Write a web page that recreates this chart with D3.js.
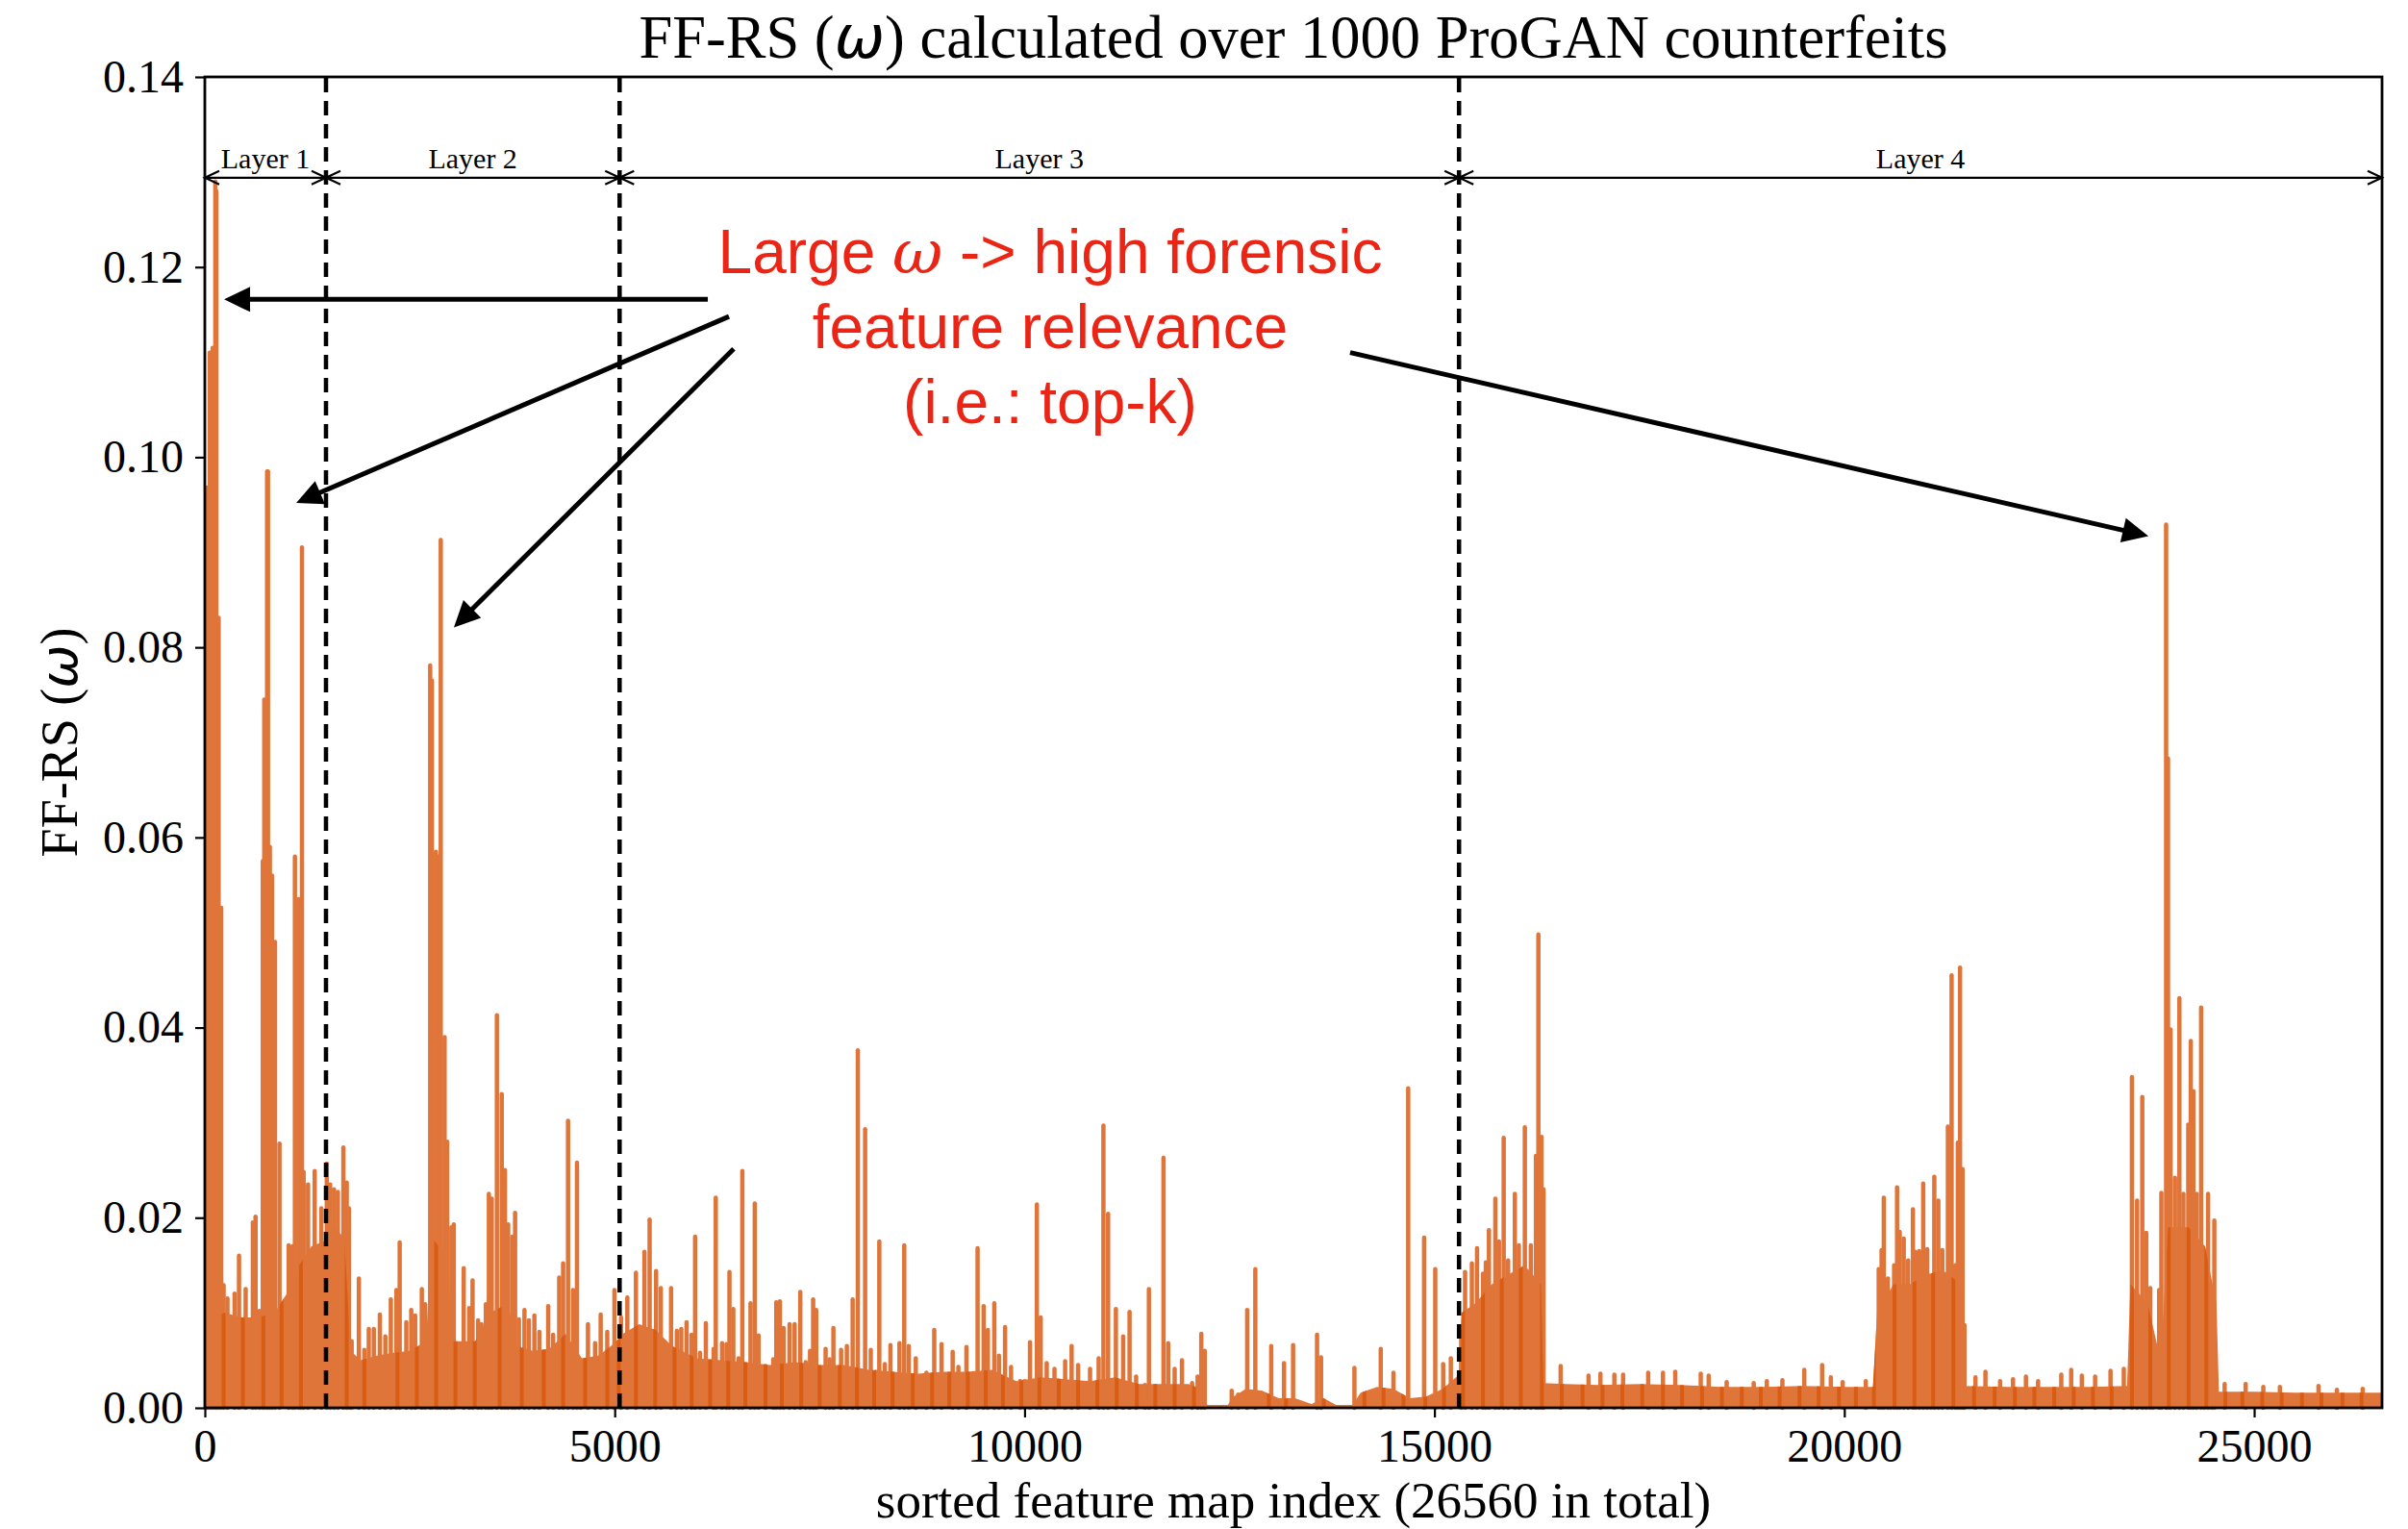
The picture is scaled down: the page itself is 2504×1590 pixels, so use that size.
<!DOCTYPE html>
<html>
<head>
<meta charset="utf-8">
<script src="https://cdn.jsdelivr.net/npm/d3@7"></script>
<style>
  body { margin: 0; background: #fff; }
  text { white-space: pre; }
</style>
</head>
<body>
<svg id="chart" width="2504" height="1590"></svg>
<script>
// values
const xMax = 26560;
const xTicks = [0, 5000, 10000, 15000, 20000, 25000];
const yTicks = [0, 0.02, 0.04, 0.06, 0.08, 0.10, 0.12, 0.14];

const layerBounds = [0, 1478, 5060, 15300, 26560];
const layerNames = ["Layer 1", "Layer 2", "Layer 3", "Layer 4"];
const layerArrowY = 0.1294;

// level of the dense orange band between peaks  [index, FF-RS]
const mass = [
  [0, 0.0095], [250, 0.0100], [450, 0.0095], [650, 0.0095], [850, 0.0100], [1000, 0.0120],
  [1150, 0.0150], [1300, 0.0170], [1450, 0.0175], [1550, 0.0190], [1700, 0.0180], [1780, 0.0060],
  [1900, 0.0050], [2100, 0.0055], [2300, 0.0058], [2500, 0.0060], [2700, 0.0070], [2760, 0.0180],
  [2950, 0.0160], [3030, 0.0070], [3300, 0.0070], [3480, 0.0100], [3700, 0.0110], [3800, 0.0065],
  [4000, 0.0060], [4200, 0.0062], [4400, 0.0078], [4600, 0.0052], [4800, 0.0055], [5000, 0.0068],
  [5100, 0.0078], [5300, 0.0088], [5500, 0.0082], [5700, 0.0065], [6000, 0.0052], [6300, 0.0050],
  [6600, 0.0048], [6900, 0.0045], [7200, 0.0048], [7500, 0.0045], [7800, 0.0045], [8100, 0.0040],
  [8400, 0.0038], [8700, 0.0036], [9000, 0.0038], [9300, 0.0038], [9600, 0.0040], [9900, 0.0028],
  [10200, 0.0032], [10500, 0.0030], [10800, 0.0028], [11100, 0.0032], [11400, 0.0025], [11700, 0.0025],
  [12000, 0.0025], [12150, 0.0020], [12230, 0.0003], [12480, 0.0003], [12550, 0.0012], [12700, 0.0020],
  [12900, 0.0018], [13100, 0.0010], [13300, 0.0010], [13500, 0.0004], [13650, 0.0010], [13800, 0.0003],
  [14000, 0.0003], [14100, 0.0016], [14300, 0.0022], [14500, 0.0020], [14700, 0.0010], [14900, 0.0012],
  [15100, 0.0020], [15300, 0.0035], [15330, 0.0100], [15500, 0.0110], [15700, 0.0130], [15900, 0.0140],
  [16100, 0.0150], [16300, 0.0130], [16330, 0.0026], [16600, 0.0025], [17000, 0.0024], [17500, 0.0025],
  [18000, 0.0024], [18500, 0.0022], [19000, 0.0022], [19500, 0.0023], [20000, 0.0022], [20350, 0.0022],
  [20400, 0.0100], [20600, 0.0130], [20800, 0.0130], [21000, 0.0140], [21200, 0.0145], [21430, 0.0130],
  [21460, 0.0023], [22000, 0.0022], [22500, 0.0022], [23000, 0.0022], [23450, 0.0023], [23490, 0.0130],
  [23700, 0.0110], [23860, 0.0050], [23950, 0.0190], [24200, 0.0190], [24400, 0.0170], [24540, 0.0110],
  [24570, 0.0017], [25000, 0.0017], [25500, 0.0016], [26000, 0.0016], [26560, 0.0016]
];

// individual peaks  [index, FF-RS]
const spikes = [
  [30, 0.0968], [60, 0.1110], [95, 0.1115], [128, 0.1290], [140, 0.1280], [168, 0.0831], [200, 0.0526],
  [229, 0.0129], [276, 0.0115], [363, 0.0120], [417, 0.0160], [498, 0.0125], [586, 0.0195], [619, 0.0201],
  [667, 0.0102], [707, 0.0575], [725, 0.0745], [760, 0.0985], [770, 0.0985], [793, 0.0590], [820, 0.0560],
  [856, 0.0490], [911, 0.0278], [1023, 0.0171], [1070, 0.0170], [1099, 0.0580], [1146, 0.0535],
  [1170, 0.0490], [1185, 0.0905], [1205, 0.0248], [1259, 0.0235], [1340, 0.0249], [1421, 0.0210],
  [1488, 0.0257], [1529, 0.0235], [1576, 0.0230], [1623, 0.0227], [1690, 0.0274], [1731, 0.0237],
  [1758, 0.0210], [1791, 0.0070], [1879, 0.0136], [1946, 0.0061], [2000, 0.0083], [2061, 0.0083],
  [2135, 0.0098], [2202, 0.0075], [2269, 0.0114], [2337, 0.0124], [2377, 0.0174], [2458, 0.0090],
  [2518, 0.0103], [2566, 0.0097], [2647, 0.0125], [2687, 0.0109], [2749, 0.0781], [2770, 0.0765],
  [2819, 0.0585], [2845, 0.0580], [2878, 0.0913], [2925, 0.0390], [2956, 0.0280], [3007, 0.0190],
  [3037, 0.0193], [3158, 0.0147], [3226, 0.0105], [3266, 0.0134], [3333, 0.0092], [3374, 0.0088],
  [3428, 0.0109], [3465, 0.0225], [3500, 0.0220], [3563, 0.0413], [3622, 0.0330], [3661, 0.0250],
  [3700, 0.0193], [3751, 0.0180], [3785, 0.0205], [3832, 0.0093], [3899, 0.0103], [3953, 0.0092],
  [4020, 0.0097], [4081, 0.0080], [4189, 0.0107], [4249, 0.0077], [4323, 0.0137], [4371, 0.0152],
  [4431, 0.0302], [4492, 0.0124], [4540, 0.0258], [4586, 0.0050], [4674, 0.0088], [4761, 0.0068],
  [4829, 0.0098], [4909, 0.0080], [4997, 0.0124], [5078, 0.0095], [5154, 0.0116], [5259, 0.0142],
  [5363, 0.0164], [5426, 0.0198], [5505, 0.0144], [5562, 0.0126], [5688, 0.0126], [5758, 0.0081],
  [5812, 0.0083], [5877, 0.0090], [5937, 0.0077], [5981, 0.0180], [6041, 0.0058], [6112, 0.0089],
  [6207, 0.0062], [6233, 0.0221], [6310, 0.0068], [6364, 0.0067], [6400, 0.0143], [6447, 0.0104],
  [6512, 0.0052], [6557, 0.0249], [6657, 0.0110], [6709, 0.0215], [6755, 0.0076], [6840, 0.0044],
  [6934, 0.0051], [6971, 0.0111], [7015, 0.0112], [7060, 0.0084], [7133, 0.0088], [7195, 0.0088],
  [7264, 0.0122], [7330, 0.0048], [7383, 0.0060], [7421, 0.0114], [7458, 0.0103], [7573, 0.0062],
  [7621, 0.0051], [7668, 0.0084], [7762, 0.0061], [7832, 0.0065], [7903, 0.0114], [7966, 0.0376],
  [8055, 0.0293], [8124, 0.0061], [8183, 0.0038], [8228, 0.0175], [8295, 0.0046], [8364, 0.0066],
  [8474, 0.0068], [8532, 0.0171], [8587, 0.0065], [8673, 0.0052], [8802, 0.0037], [8898, 0.0082],
  [8987, 0.0067], [9123, 0.0059], [9193, 0.0043], [9291, 0.0064], [9427, 0.0168], [9501, 0.0107],
  [9552, 0.0082], [9631, 0.0110], [9687, 0.0055], [9762, 0.0085], [9835, 0.0043], [9946, 0.0028],
  [10001, 0.0028], [10066, 0.0069], [10150, 0.0214], [10197, 0.0095], [10270, 0.0047], [10365, 0.0041],
  [10495, 0.0049], [10574, 0.0065], [10653, 0.0045], [10799, 0.0041], [10904, 0.0052], [10962, 0.0297],
  [11019, 0.0204], [11114, 0.0104], [11203, 0.0075], [11281, 0.0101], [11361, 0.0033], [11469, 0.0024],
  [11517, 0.0125], [11604, 0.0019], [11695, 0.0263], [11752, 0.0068], [11831, 0.0041], [11920, 0.0050],
  [12044, 0.0026], [12111, 0.0033], [12156, 0.0078], [12198, 0.0060], [12527, 0.0018], [12605, 0.0014],
  [12716, 0.0103], [12815, 0.0146], [13009, 0.0065], [13165, 0.0047], [13276, 0.0066], [13568, 0.0077],
  [13617, 0.0053], [14024, 0.0042], [14345, 0.0062], [14500, 0.0037], [14680, 0.0336], [14874, 0.0179],
  [15010, 0.0146], [15107, 0.0046], [15200, 0.0052], [15326, 0.0076], [15374, 0.0143], [15457, 0.0152],
  [15520, 0.0168], [15593, 0.0141], [15627, 0.0153], [15665, 0.0187], [15743, 0.0220], [15787, 0.0175],
  [15845, 0.0284], [15899, 0.0155], [15981, 0.0225], [16030, 0.0171], [16103, 0.0295], [16176, 0.0171],
  [16238, 0.0265], [16268, 0.0498], [16306, 0.0285], [16331, 0.0230], [16540, 0.0044], [16880, 0.0034],
  [17025, 0.0036], [17195, 0.0035], [17302, 0.0035], [17608, 0.0037], [17788, 0.0037], [17938, 0.0038],
  [18249, 0.0036], [18346, 0.0034], [18565, 0.0027], [18895, 0.0026], [19055, 0.0028], [19245, 0.0029],
  [19512, 0.0040], [19730, 0.0045], [19836, 0.0032], [19980, 0.0027], [20262, 0.0028],
  [20420, 0.0146], [20455, 0.0166], [20482, 0.0221], [20532, 0.0136], [20563, 0.0113], [20608, 0.0150],
  [20644, 0.0232], [20676, 0.0185], [20725, 0.0178], [20779, 0.0155], [20837, 0.0209], [20869, 0.0164],
  [20914, 0.0165], [20963, 0.0236], [21012, 0.0167], [21057, 0.0082], [21098, 0.0243], [21147, 0.0218],
  [21196, 0.0166], [21264, 0.0296], [21309, 0.0455], [21354, 0.0150], [21385, 0.0279], [21412, 0.0463],
  [21443, 0.0251], [21466, 0.0087], [21600, 0.0032], [21722, 0.0038], [21901, 0.0028], [22058, 0.0030],
  [22216, 0.0033], [22364, 0.0028], [22647, 0.0035], [22768, 0.0040], [22898, 0.0034], [23060, 0.0033],
  [23248, 0.0039], [23410, 0.0041], [23509, 0.0348], [23572, 0.0218], [23635, 0.0327], [23684, 0.0184],
  [23733, 0.0126], [23764, 0.0053], [23841, 0.0124], [23868, 0.0226], [23926, 0.0929], [23949, 0.0683],
  [23980, 0.0398], [24034, 0.0242], [24088, 0.0431], [24137, 0.0225], [24196, 0.0298], [24227, 0.0386],
  [24259, 0.0333], [24299, 0.0225], [24353, 0.0421], [24394, 0.0150], [24438, 0.0225], [24483, 0.0110],
  [24514, 0.0197], [24640, 0.0025], [24896, 0.0025], [25112, 0.0022], [25314, 0.0022], [25785, 0.0023],
  [26010, 0.0019], [26324, 0.0020]
];

// indices where the trace falls back to zero (darker overlap streaks)
const overlapIdx = [
  229, 464, 714, 936, 1172, 1731, 1946, 2350, 2586, 2822, 3057, 3293, 3596, 3866, 4135, 4371, 4640, 4910,
  5049, 5259, 5494, 5730, 5939, 6165, 6385, 6594, 6840, 7039, 7275, 7500, 7746, 7956, 8165, 8390, 8636,
  8872, 9082, 9307, 9527, 9736, 9961, 10181, 10417, 10653, 10888, 11124, 11370, 11595, 11831, 12067,
  12980, 13189, 13650, 14146, 14379, 14622, 14889, 15117, 15350, 15593, 15821, 16054, 16311, 16554,
  16807, 17050, 17292, 17535, 17788, 18021, 18264, 18507, 18749, 18982, 19211, 19453, 19687, 19935,
  20141, 20361, 20613, 20855, 21084, 21331, 21583, 21834, 22081, 22319, 22561, 22799, 23033, 23262,
  23509, 23733, 23958, 24200, 24416, 24649, 24856, 25098, 25336, 25583, 25821, 26077, 26310
];

// callout arrows: tail -> head, in data units
const calloutTails = [[6136, 0.1166], [6394, 0.1148], [6452, 0.1114], [13972, 0.1110]];
const calloutHeads = [[235, 0.1166], [1115, 0.0952], [3038, 0.0821], [23710, 0.0917]];
const calloutAnchor = [10312, 0.1194];
const calloutLines = ["Large ω -> high forensic", "feature relevance", "(i.e.: top-k)"];

const titleText = "FF-RS (ω) calculated over 1000 ProGAN counterfeits";
const yLabelText = "FF-RS (ω)";
const xLabelText = "sorted feature map index (26560 in total)";

// ---------------------------------------------------------------
const serif = "'Liberation Serif', 'Times New Roman', serif";
const sans = "'Liberation Sans', Arial, Helvetica, sans-serif";
const lineColor = "#e0753a";
const darkColor = "#d95c14";
const red = "#eb2516";

const margin = { top: 80, right: 27, bottom: 126, left: 213 };
const W = 2504, H = 1590;
const x = d3.scaleLinear().domain([0, xMax]).range([margin.left, W - margin.right]);
const y = d3.scaleLinear().domain([0, 0.14]).range([H - margin.bottom, margin.top]);

const svg = d3.select("#chart");

function omegaText(sel, str, omegaFamily) {
  str.split("ω").forEach((part, i, arr) => {
    sel.append("tspan").text(part);
    if (i < arr.length - 1) {
      sel.append("tspan").attr("font-family", omegaFamily).attr("font-style", "italic").text("ω");
    }
  });
}

// band
const area = d3.area().x(d => x(d[0])).y0(y(0)).y1(d => y(d[1]));
svg.append("path").datum(mass).attr("d", area).attr("fill", lineColor);

// spikes
svg.append("g").selectAll("line").data(spikes).join("line")
  .attr("x1", d => x(d[0])).attr("x2", d => x(d[0]))
  .attr("y1", y(0)).attr("y2", d => y(d[1]))
  .attr("stroke", lineColor).attr("stroke-width", 4.5).attr("stroke-linecap", "round");

// dark overlap streaks, kept inside the band
svg.append("clipPath").attr("id", "massClip")
  .append("path").datum(mass).attr("d", area);
svg.append("g").attr("clip-path", "url(#massClip)")
  .selectAll("line").data(overlapIdx).join("line")
  .attr("x1", d => x(d)).attr("x2", d => x(d))
  .attr("y1", y(0)).attr("y2", y(0.03))
  .attr("stroke", darkColor).attr("stroke-width", 4);

// layer separators
svg.append("g").selectAll("line").data(layerBounds.slice(1, -1)).join("line")
  .attr("x1", d => x(d)).attr("x2", d => x(d))
  .attr("y1", y(0)).attr("y2", y(0.14))
  .attr("stroke", "#000").attr("stroke-width", 4.5).attr("stroke-dasharray", "15,9");

// layer span arrows
const spanG = svg.append("g");
layerNames.forEach((name, i) => {
  const x0 = x(layerBounds[i]), x1 = x(layerBounds[i + 1]), yy = y(layerArrowY);
  const hl = 15, hw = 7;
  spanG.append("path")
    .attr("d", `M${x0},${yy}H${x1}M${x0 + hl},${yy - hw}L${x0},${yy}L${x0 + hl},${yy + hw}` +
               `M${x1 - hl},${yy - hw}L${x1},${yy}L${x1 - hl},${yy + hw}`)
    .attr("fill", "none").attr("stroke", "#000").attr("stroke-width", 2.2);
  spanG.append("text")
    .attr("x", (x0 + x1) / 2).attr("y", yy - 10)
    .attr("text-anchor", "middle").attr("font-family", serif).attr("font-size", 30)
    .text(name);
});

// axes
const yAxis = d3.axisLeft(y).tickValues(yTicks).tickFormat(d3.format(".2f")).tickSize(10).tickPadding(12);
const xAxis = d3.axisBottom(x).tickValues(xTicks).tickFormat(d3.format("d")).tickSize(10).tickPadding(12);
const gy = svg.append("g").attr("transform", `translate(${margin.left},0)`).call(yAxis);
const gx = svg.append("g").attr("transform", `translate(0,${y(0)})`).call(xAxis);
[gx, gy].forEach(g => {
  g.select(".domain").remove();
  g.selectAll(".tick line").attr("stroke", "#000").attr("stroke-width", 2.2);
  g.selectAll(".tick text").attr("font-family", serif).attr("font-size", 48).attr("fill", "#000");
});

// frame
svg.append("rect")
  .attr("x", x(0)).attr("y", y(0.14))
  .attr("width", x(xMax) - x(0)).attr("height", y(0) - y(0.14))
  .attr("fill", "none").attr("stroke", "#000").attr("stroke-width", 2.8);

// callout arrows
const calloutG = svg.append("g");
calloutTails.forEach((t, i) => {
  const h = calloutHeads[i];
  const tx = x(t[0]), ty = y(t[1]), hx = x(h[0]), hy = y(h[1]);
  const len = Math.hypot(hx - tx, hy - ty), ux = (hx - tx) / len, uy = (hy - ty) / len;
  const hl = 27, hw = 13;
  const bx = hx - ux * hl, by = hy - uy * hl;
  calloutG.append("line")
    .attr("x1", tx).attr("y1", ty).attr("x2", bx + ux * 2).attr("y2", by + uy * 2)
    .attr("stroke", "#000").attr("stroke-width", 5);
  calloutG.append("path")
    .attr("d", `M${hx},${hy}L${bx - uy * hw},${by + ux * hw}L${bx + uy * hw},${by - ux * hw}Z`)
    .attr("fill", "#000");
});

// callout text
calloutLines.forEach((line, i) => {
  const t = svg.append("text")
    .attr("x", x(calloutAnchor[0])).attr("y", y(calloutAnchor[1]) + i * 78)
    .attr("text-anchor", "middle").attr("font-family", sans).attr("font-size", 64).attr("fill", red);
  omegaText(t, line, "'DejaVu Serif', serif");
});

// title and axis labels
const title = svg.append("text")
  .attr("x", (x(0) + x(xMax)) / 2).attr("y", 60)
  .attr("text-anchor", "middle").attr("font-family", serif).attr("font-size", 62.5);
omegaText(title, titleText, "'DejaVu Sans', sans-serif");

const yl = svg.append("text")
  .attr("transform", `translate(80,${(y(0) + y(0.14)) / 2}) rotate(-90)`)
  .attr("text-anchor", "middle").attr("font-family", serif).attr("font-size", 54);
omegaText(yl, yLabelText, "'DejaVu Sans', sans-serif");

svg.append("text")
  .attr("x", (x(0) + x(xMax)) / 2).attr("y", 1578)
  .attr("text-anchor", "middle").attr("font-family", serif).attr("font-size", 53)
  .text(xLabelText);
</script>
</body>
</html>
